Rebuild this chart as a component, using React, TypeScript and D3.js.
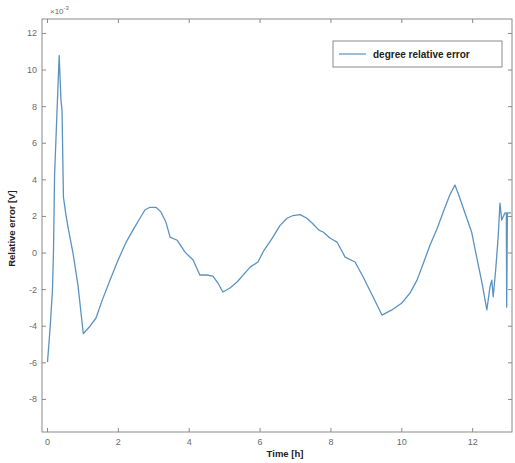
import React from "react";
import * as d3 from "d3";

const timeH: number[] = [
  0, 0.07, 0.14, 0.17, 0.2, 0.27, 0.33, 0.38, 0.41, 0.45, 0.52, 0.58, 0.72, 0.86, 1.01,
  1.2, 1.37, 1.54, 1.76, 1.99, 2.22, 2.44, 2.61, 2.75, 2.89, 3.06, 3.2, 3.34,
  3.46, 3.66, 3.88, 4.11, 4.3, 4.5, 4.67, 4.81, 4.95, 5.15, 5.35, 5.72, 5.94,
  6.11, 6.34, 6.56, 6.76, 6.93, 7.13, 7.32, 7.49, 7.66, 7.78,
  7.97, 8.17, 8.4, 8.68, 8.91, 9.19, 9.44, 9.72, 10.0, 10.23, 10.43, 10.6, 10.8, 11.0, 11.19, 11.36,
  11.5, 11.62, 11.78, 11.97, 12.11, 12.26, 12.4, 12.49, 12.54, 12.58, 12.65, 12.72, 12.77, 12.82,
  12.91, 12.95, 12.96, 12.98, 13.08,
];

const relErr: number[] = [
  -5.96, -4.2, -2.05, 0.15, 4.26, 7.8, 10.8, 8.36, 7.8, 3.06, 2.1, 1.4, 0.0, -1.75, -4.4,
  -4.0, -3.55, -2.6, -1.5, -0.4, 0.6, 1.35, 1.9, 2.35, 2.5, 2.5, 2.25, 1.7,
  0.87, 0.7, 0.05, -0.38, -1.2, -1.2, -1.26, -1.64, -2.13, -1.91, -1.58, -0.77, -0.49,
  0.15, 0.8, 1.5, 1.9, 2.05, 2.1, 1.9, 1.6, 1.25, 1.15,
  0.82, 0.6, -0.22, -0.49, -1.31, -2.4, -3.39, -3.11, -2.73, -2.19, -1.48, -0.6, 0.45, 1.35, 2.35, 3.2,
  3.72, 3.1, 2.2, 1.15, -0.2, -1.6, -3.11, -1.84, -1.48, -2.39, -0.9, 0.89, 2.73, 1.8,
  2.19, 2.19, -2.95, 2.19, 2.19,
];

const xTicks: number[] = [0, 2, 4, 6, 8, 10, 12];
const yTicks: number[] = [-8, -6, -4, -2, 0, 2, 4, 6, 8, 10, 12];
const xLabel = "Time [h]";
const yLabel = "Relative error [V]";
const legendLabel = "degree relative error";
const exponentLabel = "10";

export default function App() {
  const W = 515;
  const H = 463;
  const left = 42;
  const right = 512;
  const top = 19;
  const bottom = 432;

  const x = d3.scaleLinear().domain([-0.155, 13.11]).range([left, right]);
  const y = d3.scaleLinear().domain([-9.78, 12.79]).range([bottom, top]);

  const pts: [number, number][] = timeH.map((t, i) => [t, relErr[i]]);
  const line = d3
    .line<[number, number]>()
    .x((d) => x(d[0]))
    .y((d) => y(d[1]));

  const axisColor = "#8a8a8a";
  const textColor = "#6a6a6a";
  const lineColor = "#5b93c0";
  const tl = 4;

  return (
    <svg
      width={W}
      height={H}
      style={{ position: "absolute", left: 0, top: 0, background: "#fff" }}
      fontFamily="'Liberation Sans', Arial, sans-serif"
    >
      <rect x={0} y={0} width={W} height={H} fill="#fff" />
      <defs>
        <clipPath id="plotClip">
          <rect x={left} y={top} width={right - left} height={bottom - top} />
        </clipPath>
      </defs>
      <path
        d={line(pts) || ""}
        fill="none"
        stroke={lineColor}
        strokeWidth={1.3}
        strokeLinejoin="round"
        clipPath="url(#plotClip)"
      />
      <rect
        x={left}
        y={top}
        width={right - left}
        height={bottom - top}
        fill="none"
        stroke={axisColor}
        strokeWidth={1}
      />
      {xTicks.map((t) => (
        <g key={"x" + t}>
          <line x1={x(t)} x2={x(t)} y1={bottom} y2={bottom - tl} stroke={axisColor} />
          <line x1={x(t)} x2={x(t)} y1={top} y2={top + tl} stroke={axisColor} />
          <text x={x(t)} y={bottom + 13} fontSize={9} fill={textColor} textAnchor="middle">
            {t}
          </text>
        </g>
      ))}
      {yTicks.map((t) => (
        <g key={"y" + t}>
          <line x1={left} x2={left + tl} y1={y(t)} y2={y(t)} stroke={axisColor} />
          <line x1={right} x2={right - tl} y1={y(t)} y2={y(t)} stroke={axisColor} />
          <text x={left - 5} y={y(t) + 3} fontSize={9} fill={textColor} textAnchor="end">
            {t}
          </text>
        </g>
      ))}
      <text x={left + 8} y={top - 5} fontSize={8} fill={textColor}>
        {"\u00d7"}
        {exponentLabel}
        <tspan dy={-4} fontSize={6}>
          -3
        </tspan>
      </text>
      <text
        x={(left + right) / 2 + 8}
        y={457}
        fontSize={9.5}
        fontWeight="bold"
        fill="#222"
        textAnchor="middle"
      >
        {xLabel}
      </text>
      <text
        transform={`translate(15, ${(top + bottom) / 2 + 3}) rotate(-90)`}
        fontSize={9.5}
        fontWeight="bold"
        fill="#222"
        textAnchor="middle"
      >
        {yLabel}
      </text>
      <g>
        <rect x={333} y={41} width={169} height={26} fill="#fff" stroke={axisColor} strokeWidth={1} />
        <line x1={339} x2={366} y1={54} y2={54} stroke={lineColor} strokeWidth={1.2} />
        <text x={373} y={57.5} fontSize={10} fontWeight="bold" fill="#222">
          {legendLabel}
        </text>
      </g>
    </svg>
  );
}
